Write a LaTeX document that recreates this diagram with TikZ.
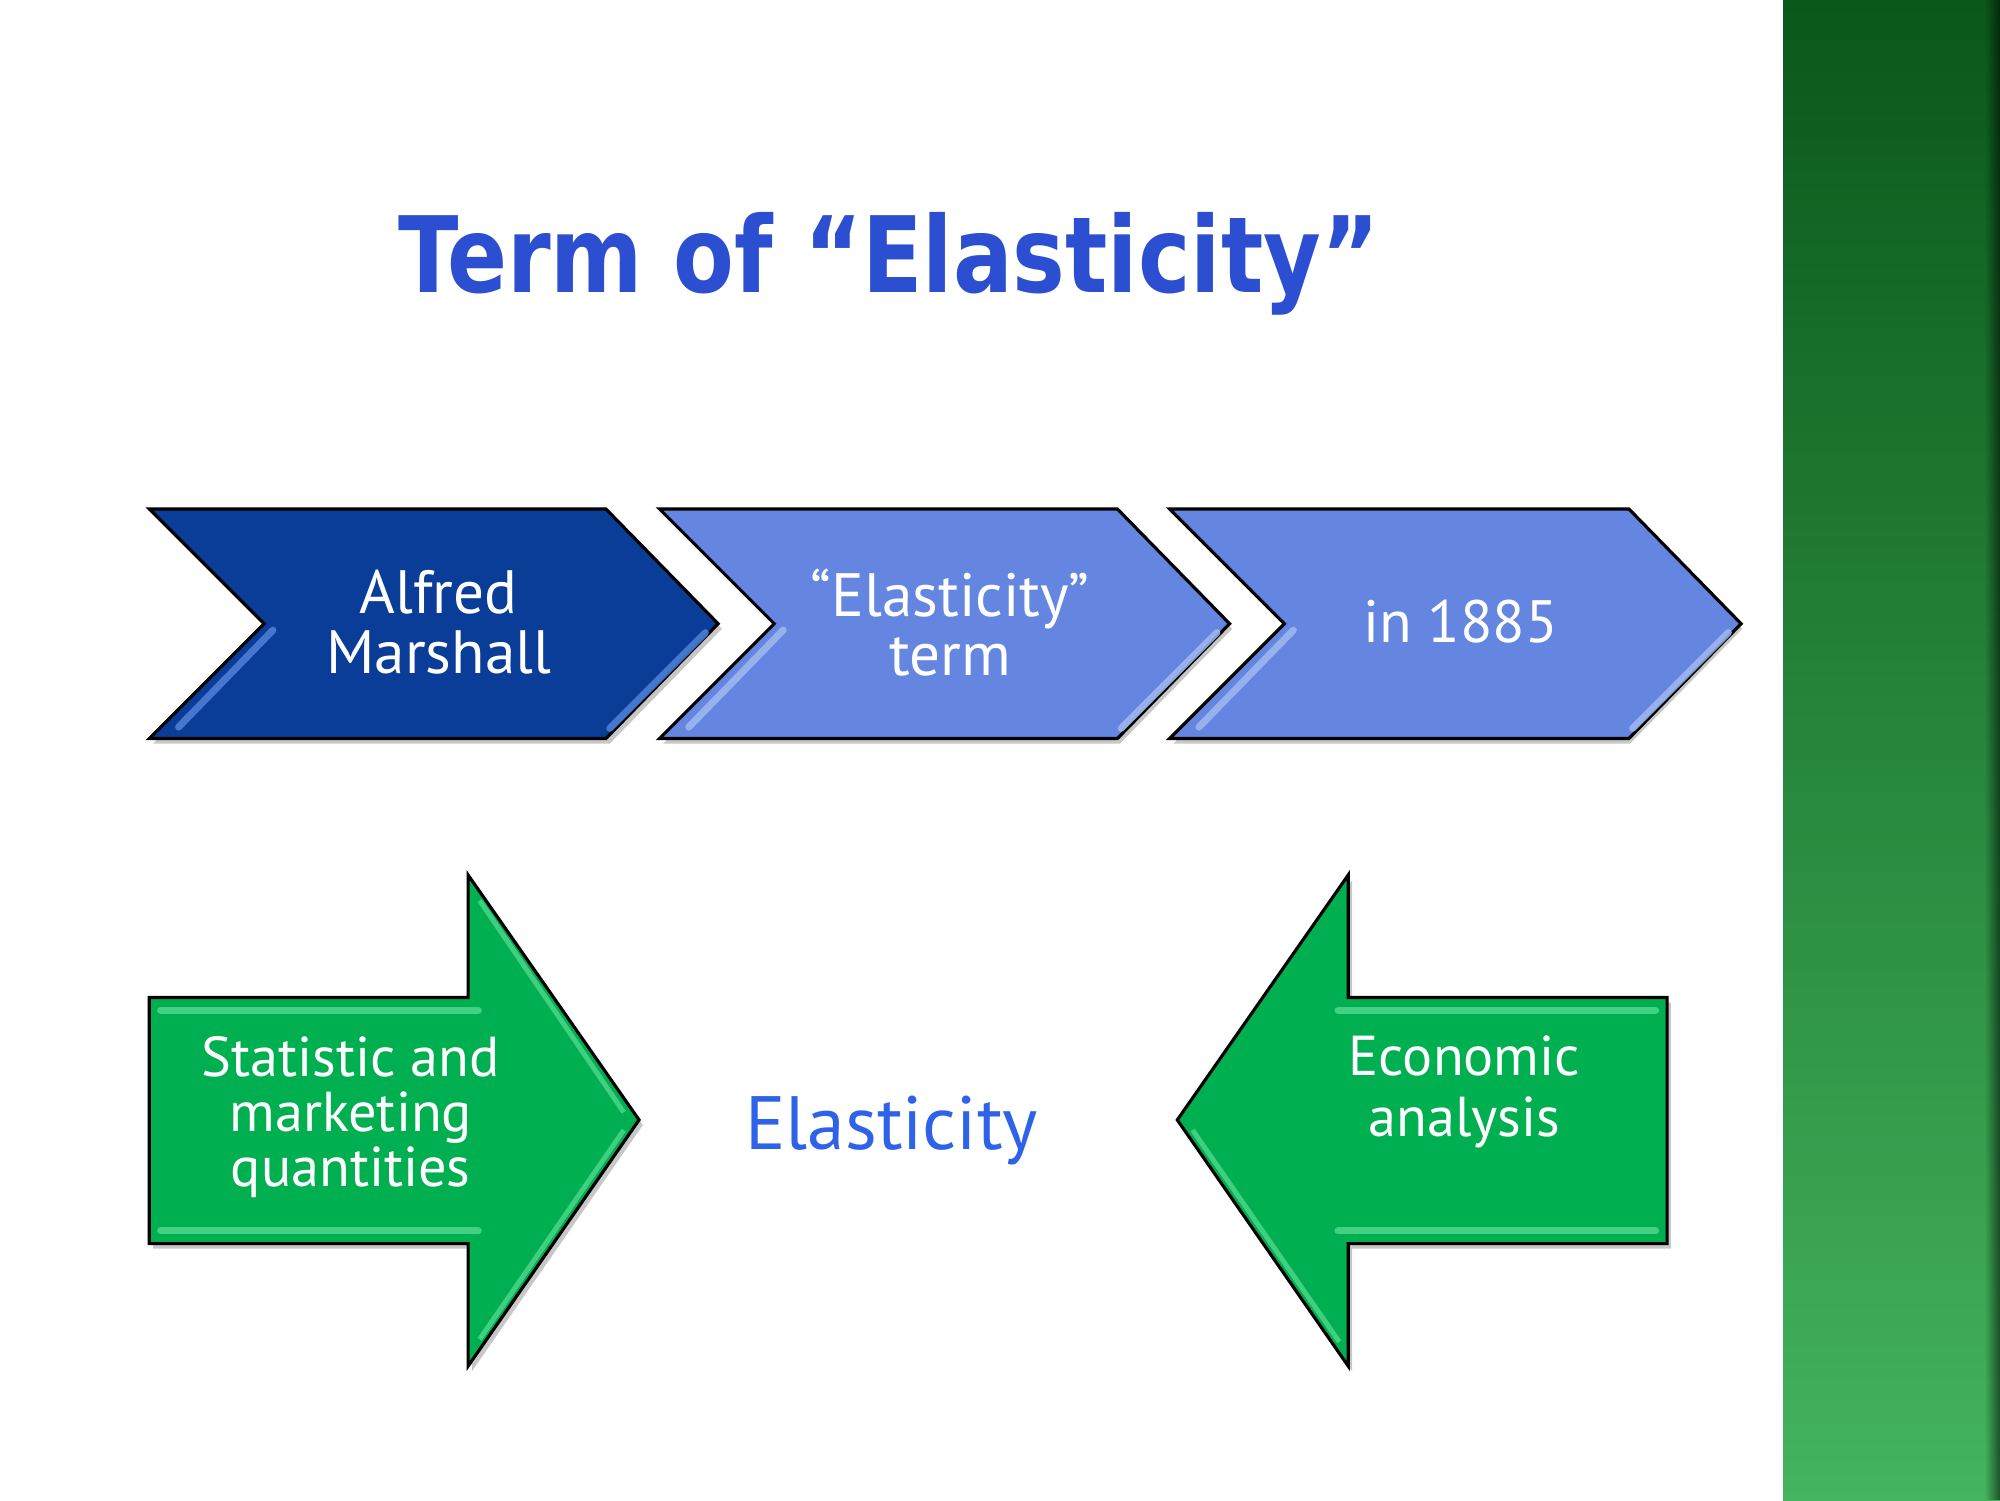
\documentclass[tikz,border=0pt]{standalone}
\usepackage{fontspec}
\setmainfont{PT Sans}
\newfontfamily\titlefont{DejaVu Sans}
\usetikzlibrary{fadings}
\definecolor{darkblue}{RGB}{10,61,151}
\definecolor{lightblue}{RGB}{100,134,224}
\definecolor{hidark}{RGB}{80,130,220}
\definecolor{hilight}{RGB}{160,185,240}
\definecolor{pptgreen}{RGB}{0,176,80}
\definecolor{higreen}{RGB}{80,214,140}
\definecolor{titleblue}{RGB}{43,79,208}
\definecolor{elblue}{RGB}{46,98,232}
\definecolor{panelTop}{RGB}{10,88,26}
\definecolor{panelBot}{RGB}{68,180,94}
\tikzset{
  shapeline/.style={draw=black, line width=0.9pt, line join=miter},
  shadowfill/.style={fill=black, opacity=0.22},
  bodytext/.style={text=white, align=center, font=\fontsize{17.4}{17}\selectfont},
  greentext/.style={text=white, align=center, font=\fontsize{16}{15.6}\selectfont},
  bevel/.style={line width=2pt, line cap=round, opacity=0.85},
}
\begin{document}
\begin{tikzpicture}[x=0.012755cm,y=-0.012755cm]
\useasboundingbox (0,0) rectangle (1568,1176);
\fill[white] (0,0) rectangle (1568,1176);
% green side panel
\shade[top color=panelTop, bottom color=panelBot] (1398,0) rectangle (1568,1176);
\fill[black, opacity=0.55, path fading=west] (1556,0) rectangle (1568,1176);

% title
\node (title) at (697,207) {\titlefont\bfseries\fontsize{30}{30}\selectfont\color{titleblue}\scalebox{0.84}[1]{Term of “Elasticity”}};

% chevrons: shadows
\foreach \dx in {0,400,800}{
  \fill[shadowfill] ([shift={(\dx+3,4)}]117,399) -- ++(358,0) -- ++(88,90) -- ++(-88,90) -- ++(-358,0) -- ++(90,-90) -- cycle;
}
% chevron 1
\path[fill=darkblue, shapeline] (117,399) -- (475,399) -- (563,489) -- (475,579) -- (117,579) -- (207,489) -- cycle;
\draw[hidark, bevel] (214,494) -- (140,570);
\draw[hidark, bevel] (553,496) -- (478,571);
% chevron 2
\path[fill=lightblue, shapeline] (517,399) -- (876,399) -- (964,489) -- (876,579) -- (517,579) -- (607,489) -- cycle;
\draw[hilight, bevel] (614,494) -- (540,570);
\draw[hilight, bevel] (954,496) -- (879,571);
% chevron 3
\path[fill=lightblue, shapeline] (917,399) -- (1277,399) -- (1365,489) -- (1277,579) -- (917,579) -- (1007,489) -- cycle;
\draw[hilight, bevel] (1014,494) -- (940,570);
\draw[hilight, bevel] (1355,496) -- (1280,571);

\node[bodytext] (marshall) at (344,488) {Alfred\\Marshall};
\node[bodytext] (term) at (745,488) {“Elasticity”\\term};
\node[bodytext, font=\fontsize{17}{17}\selectfont] (year) at (1145,487) {in 1885};

% right-pointing green arrow
\fill[shadowfill] (120,786) -- (370,786) -- (370,690) -- (504,882) -- (370,1075) -- (370,979) -- (120,979) -- cycle;
\path[fill=pptgreen, shapeline] (117,782) -- (367,782) -- (367,686) -- (501,878) -- (367,1071) -- (367,975) -- (117,975) -- cycle;
\draw[higreen, bevel] (126,792) -- (375,792);
\draw[higreen, bevel] (126,965) -- (375,965);
\draw[higreen, line width=1.4pt, opacity=0.8] (376,706) -- (489,872);
\draw[higreen, line width=1.4pt, opacity=0.8] (489,886) -- (376,1050);
\node[greentext] (stat) at (275,876) {Statistic and\\marketing\\quantities};

% left-pointing green arrow
\fill[shadowfill] (1310,786) -- (1060,786) -- (1060,690) -- (926,882) -- (1060,1075) -- (1060,979) -- (1310,979) -- cycle;
\path[fill=pptgreen, shapeline] (1307,782) -- (1057,782) -- (1057,686) -- (923,878) -- (1057,1071) -- (1057,975) -- (1307,975) -- cycle;
\draw[higreen, bevel] (1049,792) -- (1298,792);
\draw[higreen, bevel] (1049,965) -- (1298,965);
\draw[higreen, line width=1.4pt, opacity=0.8] (935,886) -- (1050,1052);
\node[greentext, font=\fontsize{16}{17.4}\selectfont] (econ) at (1148,856) {Economic\\analysis};

% centre word
\node[text=elblue, font=\fontsize{21.5}{21.5}\selectfont] (elast) at (699,886) {Elasticity};
\end{tikzpicture}
\end{document}
